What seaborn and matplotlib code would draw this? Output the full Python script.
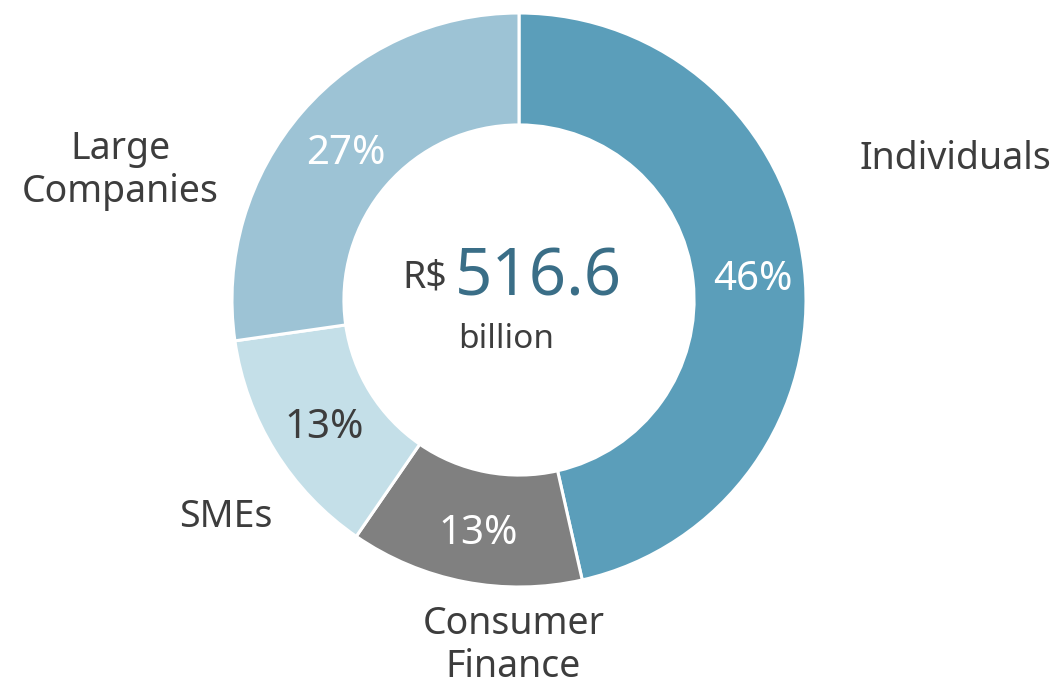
import numpy as np
import matplotlib.pyplot as plt
import seaborn as sns

# Loan portfolio breakdown
segments = ['Individuals', 'Consumer\nFinance', 'SMEs', 'Large\nCompanies']
shares = [46, 13, 13, 27]
colors = ['#5b9eba', '#808080', '#c4dfe8', '#9dc3d5']
pct_colors = ['white', 'white', '#3d3d3d', 'white']
total = '516.6'

sns.set_theme(style='white')
plt.rcParams['font.family'] = ['Noto Sans', 'DejaVu Sans']

fig = plt.figure(figsize=(10.59, 6.86), dpi=100)
ax = fig.add_axes([0, 0, 1, 1])

wedges, _ = ax.pie(shares, colors=colors, startangle=90, counterclock=False,
                   radius=1, wedgeprops=dict(width=0.39, edgecolor='white', linewidth=2.2))

# percentages inside the ring
for w, s, c in zip(wedges, shares, pct_colors):
    ang = np.deg2rad((w.theta1 + w.theta2) / 2)
    r = 0.81
    ax.text(r * np.cos(ang) + 0.01, r * np.sin(ang) - 0.02, f'{s}%', ha='center', va='center',
            fontsize=29, color=c, fontweight='light')

# category labels outside
label_pos = {'Individuals': (1.52, 0.49), 'Consumer\nFinance': (-0.02, -1.205),
             'SMEs': (-1.02, -0.755), 'Large\nCompanies': (-1.39, 0.45)}
for name in segments:
    x, y = label_pos[name]
    ax.text(x, y, name, ha='center', va='center', fontsize=27, color='#3d3d3d',
            linespacing=1.17)

# centre total
ax.text(-0.25, 0.042, 'R$', ha='right', va='baseline', fontsize=27, color='#3d3d3d')
ax.text(-0.225, 0.017, total, ha='left', va='baseline', fontsize=47, color='#3a6e87')
ax.text(-0.045, -0.139, 'billion', ha='center', va='center', fontsize=24, color='#3d3d3d')

ax.set_xlim(-519 / 287, 540 / 287)
ax.set_ylim(-386 / 287, 300 / 287)
ax.set_aspect('auto')
ax.axis('off')

fig.savefig('out.png')
